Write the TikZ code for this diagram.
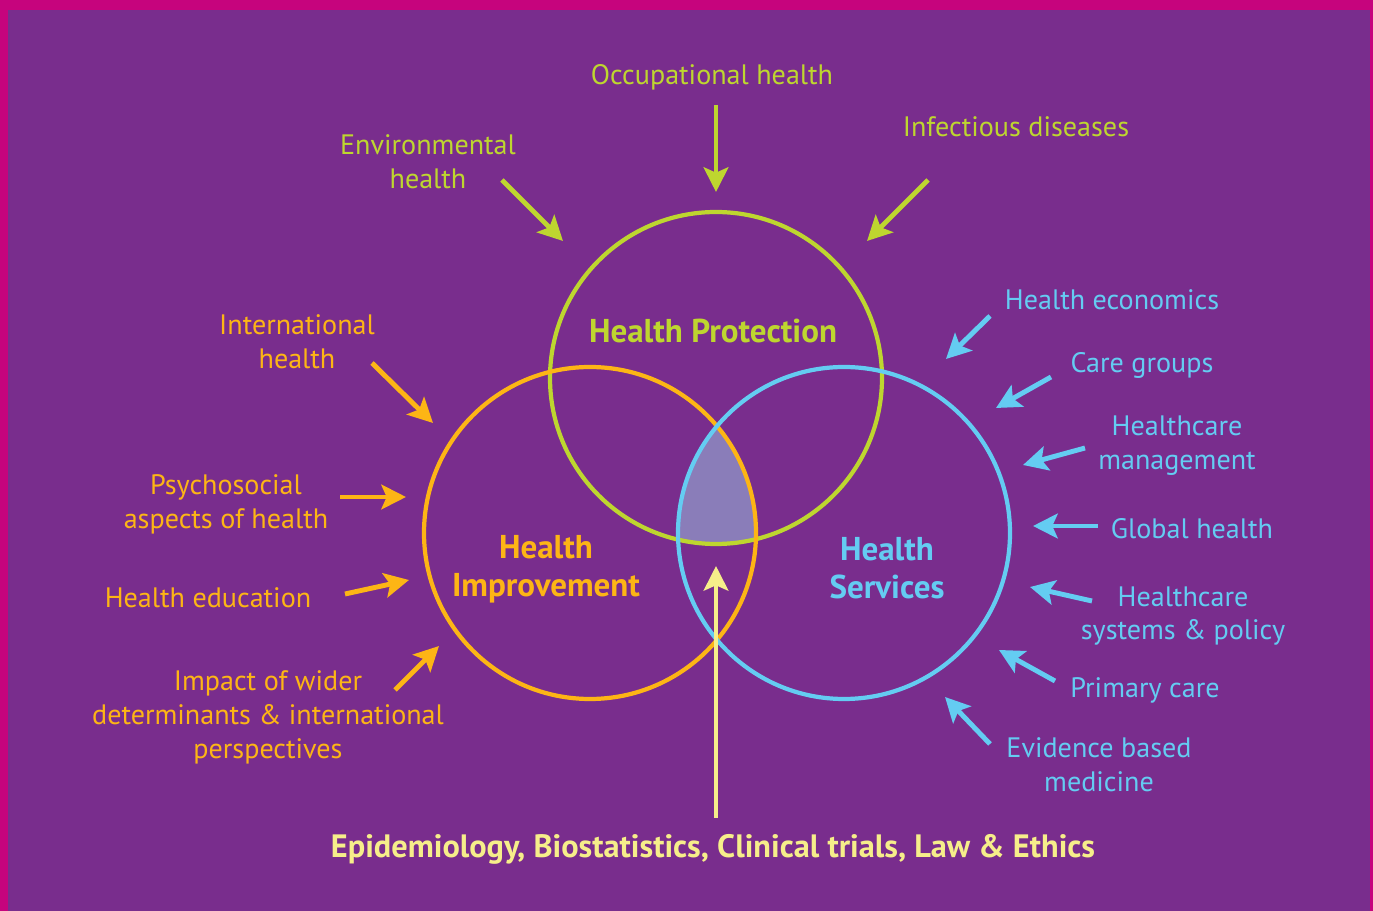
\documentclass[tikz,border=0pt]{standalone}
\usepackage{fontspec}
\setmainfont{PT Sans}
\usetikzlibrary{arrows.meta}
\definecolor{bgPurple}{HTML}{792D8D}
\definecolor{bgMagenta}{HTML}{C6047D}
\definecolor{hpGreen}{HTML}{BED62F}
\definecolor{hiOrange}{HTML}{FDB515}
\definecolor{hsBlue}{HTML}{64CCF2}
\definecolor{baseYellow}{HTML}{F6EE8A}
\definecolor{coreLilac}{HTML}{8A7DB9}
\tikzset{
  lbl/.style={align=center,font=\fontsize{16}{19.3}\selectfont},
  head/.style={align=center,font=\fontsize{18.8}{21.5}\selectfont\bfseries},
  feed/.style={line width=2.8pt,-{Stealth[length=14pt,width=14pt,inset=3pt]}},
  ring/.style={line width=2.4pt}
}
\begin{document}
\begin{tikzpicture}[x=0.02cm,y=-0.02cm]
  \def\rad{166}
  \fill[bgMagenta] (0,0) rectangle (1373,911);
  \fill[bgPurple] (8,10) rectangle (1370,911);
  \useasboundingbox (0,0) rectangle (1373,911);
  \coordinate (cP) at (716,378);
  \coordinate (cI) at (590,533);
  \coordinate (cS) at (844,533);
  \begin{scope}
    \clip (cP) circle (\rad);
    \clip (cI) circle (\rad);
    \fill[coreLilac] (cS) circle (\rad);
  \end{scope}
  \draw[ring,hpGreen] (cP) circle (\rad);
  \draw[ring,hiOrange] (cI) circle (\rad);
  \draw[ring,hsBlue] (cS) circle (\rad);
  \node[head,text=hpGreen] (hp) at (713,331) {Health Protection};
  \node[head,text=hiOrange] (hi) at (546,569) {Health\\Improvement};
  \node[head,text=hsBlue] (hs) at (887,568) {Health\\Services};
  \node[lbl,text=hpGreen] (occ) at (712,77) {Occupational health};
  \node[lbl,text=hpGreen] (env) at (428,162) {Environmental\\health};
  \node[lbl,text=hpGreen] (inf) at (1016,127) {Infectious diseases};
  \coordinate (occA) at (716,105); \coordinate (occB) at (716,192);
  \coordinate (envA) at (502,180); \coordinate (envB) at (563,241);
  \coordinate (infA) at (928,180); \coordinate (infB) at (867,241);
  \draw[feed,hpGreen] (occA) -- (occB);
  \draw[feed,hpGreen] (envA) -- (envB);
  \draw[feed,hpGreen] (infA) -- (infB);
  \foreach \n/\tx/\ty/\ax/\ay/\bx/\by/\txt in {
      int/297/342/372/363/433/423/{International\\health},
      psy/226/504/340/497/406/497/{Psychosocial\\aspects of health},
      edu/208/598/345/594/409/580/{Health education},
      imp/268/717/395/690/439/646/{Impact of wider\\determinants \& international\\perspectives}}{
    \node[lbl,text=hiOrange] (\n) at (\tx,\ty) {\txt};
    \coordinate (\n A) at (\ax,\ay);
    \coordinate (\n B) at (\bx,\by);
    \draw[feed,hiOrange] (\n A) -- (\n B);
  }
  \foreach \n/\tx/\ty/\ax/\ay/\bx/\by/\txt in {
      eco/1112/300/990/316/946/359/{Health economics},
      car/1142/365/1051/377/996/408/{Care groups},
      man/1177/446/1085/448/1023/465/{Healthcare\\management},
      glo/1192/529/1098/526/1033/526/{Global health},
      pol/1183/616/1092/601/1030/587/{Healthcare\\systems \& policy},
      pri/1145/690/1055/681/999/650/{Primary care},
      evi/1099/765/990/744/945/697/{Evidence based\\medicine}}{
    \node[lbl,text=hsBlue] (\n) at (\tx,\ty) {\txt};
    \coordinate (\n A) at (\ax,\ay);
    \coordinate (\n B) at (\bx,\by);
    \draw[feed,hsBlue] (\n A) -- (\n B);
  }
  \node[head,text=baseYellow,font=\fontsize{18.4}{21}\selectfont\bfseries] (base) at (713,849)
    {Epidemiology, Biostatistics, Clinical trials, Law \& Ethics};
  \coordinate (baseA) at (716,818);
  \coordinate (baseB) at (716,566);
  \draw[feed,baseYellow,line width=2.6pt] (baseA) -- (baseB);
\end{tikzpicture}
\end{document}
